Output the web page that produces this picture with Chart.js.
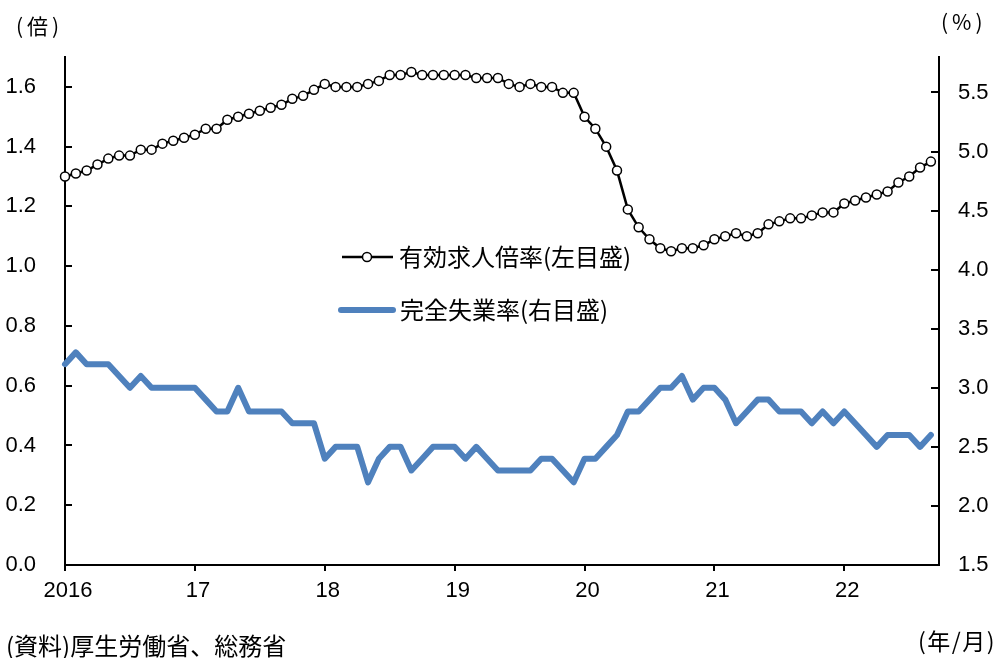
<!DOCTYPE html>
<html lang="ja">
<head>
<meta charset="utf-8">
<script src="https://cdn.jsdelivr.net/npm/chart.js@4.4.1/dist/chart.umd.min.js"></script>
<style>
  html, body { margin: 0; padding: 0; background: #fff; }
  #wrap { position: relative; width: 1000px; height: 658px; }
  .lbl { position: absolute; font-family: "Noto Sans CJK JP", sans-serif; color: #000; line-height: 1; white-space: nowrap; }
</style>
</head>
<body>
<div id="wrap">
  <canvas id="grafico"></canvas>
  <div class="lbl" style="left:16px; top:15px; font-size:21px; letter-spacing:4px;">(倍)</div>
  <div class="lbl" style="left:941px; top:11px; font-size:21px; letter-spacing:4px;">(%)</div>
  <div class="lbl" style="left:918px; top:629px; font-size:23px; letter-spacing:1.5px;">(年/月)</div>
  <div class="lbl" style="left:6px; top:633px; font-size:24px;">(資料)厚生労働省、総務省</div>
</div>
<script>
// 有効求人倍率 (左目盛), 2016年1月〜2022年9月
const jobRatio = [
  1.30, 1.31, 1.32, 1.34, 1.36, 1.37, 1.37, 1.39, 1.39, 1.41, 1.42, 1.43,
  1.44, 1.46, 1.46, 1.49, 1.50, 1.51, 1.52, 1.53, 1.54, 1.56, 1.57, 1.59,
  1.61, 1.60, 1.60, 1.60, 1.61, 1.62, 1.64, 1.64, 1.65, 1.64, 1.64, 1.64,
  1.64, 1.64, 1.63, 1.63, 1.63, 1.61, 1.60, 1.61, 1.60, 1.60, 1.58, 1.58,
  1.50, 1.46, 1.40, 1.32, 1.19, 1.13, 1.09, 1.06, 1.05, 1.06, 1.06, 1.07,
  1.09, 1.10, 1.11, 1.10, 1.11, 1.14, 1.15, 1.16, 1.16, 1.17, 1.18, 1.18,
  1.21, 1.22, 1.23, 1.24, 1.25, 1.28, 1.30, 1.33, 1.35
];

// 完全失業率 (右目盛, %)
const unemployment = [
  3.2, 3.3, 3.2, 3.2, 3.2, 3.1, 3.0, 3.1, 3.0, 3.0, 3.0, 3.0,
  3.0, 2.9, 2.8, 2.8, 3.0, 2.8, 2.8, 2.8, 2.8, 2.7, 2.7, 2.7,
  2.4, 2.5, 2.5, 2.5, 2.2, 2.4, 2.5, 2.5, 2.3, 2.4, 2.5, 2.5,
  2.5, 2.4, 2.5, 2.4, 2.3, 2.3, 2.3, 2.3, 2.4, 2.4, 2.3, 2.2,
  2.4, 2.4, 2.5, 2.6, 2.8, 2.8, 2.9, 3.0, 3.0, 3.1, 2.9, 3.0,
  3.0, 2.9, 2.7, 2.8, 2.9, 2.9, 2.8, 2.8, 2.8, 2.7, 2.8, 2.7,
  2.8, 2.7, 2.6, 2.5, 2.6, 2.6, 2.6, 2.5, 2.6
];

// 目盛り
const yearLabels = ['2016', '17', '18', '19', '20', '21', '22'];
const leftTicks = [0, 0.2, 0.4, 0.6, 0.8, 1.0, 1.2, 1.4, 1.6];
const rightTicks = [1.5, 2.0, 2.5, 3.0, 3.5, 4.0, 4.5, 5.0, 5.5];

const seriesNames = ['有効求人倍率(左目盛)', '完全失業率(右目盛)'];

const fuenteNum = '"Liberation Sans", Arial, sans-serif';
const fuenteJp = '"Noto Sans CJK JP", sans-serif';

// 縦軸の目盛り線 (内向き)
const marcasPlugin = {
  id: 'marcas',
  afterDraw(chart) {
    const ctx = chart.ctx;
    const area = chart.chartArea;
    ctx.save();
    ctx.strokeStyle = '#000';
    ctx.lineWidth = 2;
    const yL = chart.scales.yL;
    yL.ticks.forEach(t => {
      const y = Math.round(yL.getPixelForValue(t.value));
      ctx.beginPath();
      ctx.moveTo(area.left, y);
      ctx.lineTo(area.left + 7, y);
      ctx.stroke();
    });
    const yR = chart.scales.yR;
    yR.ticks.forEach(t => {
      const y = Math.round(yR.getPixelForValue(t.value));
      ctx.beginPath();
      ctx.moveTo(area.right, y);
      ctx.lineTo(area.right - 8, y);
      ctx.stroke();
    });
    ctx.restore();
  }
};

// 凡例 (グラフ内に配置)
const leyendaPlugin = {
  id: 'leyenda',
  afterDraw(chart) {
    const ctx = chart.ctx;
    ctx.save();
    // 有効求人倍率
    ctx.strokeStyle = '#000';
    ctx.lineWidth = 2.5;
    ctx.beginPath();
    ctx.moveTo(342, 257);
    ctx.lineTo(393, 257);
    ctx.stroke();
    ctx.beginPath();
    ctx.arc(367, 257, 4.5, 0, Math.PI * 2);
    ctx.fillStyle = '#fff';
    ctx.fill();
    ctx.lineWidth = 1.5;
    ctx.stroke();
    // 完全失業率
    ctx.strokeStyle = '#4F81BD';
    ctx.lineWidth = 6;
    ctx.lineCap = 'round';
    ctx.beginPath();
    ctx.moveTo(341, 310);
    ctx.lineTo(393, 310);
    ctx.stroke();
    // 文字
    ctx.fillStyle = '#000';
    ctx.font = '24px ' + fuenteJp;
    ctx.textBaseline = 'middle';
    ctx.fillText(seriesNames[0], 399, 257);
    ctx.fillText(seriesNames[1], 400, 310);
    ctx.restore();
  }
};

new Chart(document.getElementById('grafico'), {
  type: 'line',
  data: {
    datasets: [
      {
        label: seriesNames[0],
        data: jobRatio.map((v, i) => ({ x: i, y: v })),
        yAxisID: 'yL',
        borderColor: '#000',
        borderWidth: 2.5,
        pointRadius: 4.5,
        pointBorderWidth: 1.5,
        pointBackgroundColor: '#fff',
        pointBorderColor: '#000',
        tension: 0,
        clip: false
      },
      {
        label: seriesNames[1],
        data: unemployment.map((v, i) => ({ x: i, y: v })),
        yAxisID: 'yR',
        borderColor: '#4F81BD',
        borderWidth: 6,
        borderJoinStyle: 'round',
        borderCapStyle: 'round',
        pointRadius: 0,
        tension: 0,
        clip: false
      }
    ]
  },
  plugins: [marcasPlugin, leyendaPlugin],
  options: {
    responsive: true,
    maintainAspectRatio: false,
    animation: false,
    layout: { padding: { top: 57, left: 0, right: 0, bottom: 0 } },
    plugins: { legend: { display: false }, tooltip: { enabled: false } },
    scales: {
      x: {
        type: 'linear',
        min: 0,
        max: 80.75,
        afterBuildTicks: s => { s.ticks = yearLabels.map((_, i) => ({ value: i * 12 })); },
        afterFit: s => { s.height = 93; },
        border: { color: '#000', width: 2 },
        grid: { drawOnChartArea: false, drawTicks: true, tickLength: 6, color: '#000', lineWidth: 2 },
        ticks: {
          autoSkip: false,
          maxRotation: 0,
          padding: 7,
          labelOffset: 3,
          color: '#000',
          font: { family: fuenteNum, size: 22 },
          callback: v => yearLabels[Math.round(v / 12)]
        }
      },
      yL: {
        position: 'left',
        min: 0,
        max: 1.7,
        afterBuildTicks: s => { s.ticks = leftTicks.map(v => ({ value: v })); },
        afterFit: s => { s.width = 65; },
        border: { color: '#000', width: 2 },
        grid: { drawOnChartArea: false, drawTicks: false },
        ticks: {
          padding: 29,
          color: '#000',
          font: { family: fuenteNum, size: 22 },
          callback: v => v.toFixed(1)
        }
      },
      yR: {
        position: 'right',
        min: 1.5,
        max: 5.8,
        afterBuildTicks: s => { s.ticks = rightTicks.map(v => ({ value: v })); },
        afterFit: s => { s.width = 61; },
        border: { color: '#000', width: 2 },
        grid: { drawOnChartArea: false, drawTicks: false },
        ticks: {
          padding: 19,
          color: '#000',
          font: { family: fuenteNum, size: 22 },
          callback: v => v.toFixed(1)
        }
      }
    }
  }
});
</script>
</body>
</html>
